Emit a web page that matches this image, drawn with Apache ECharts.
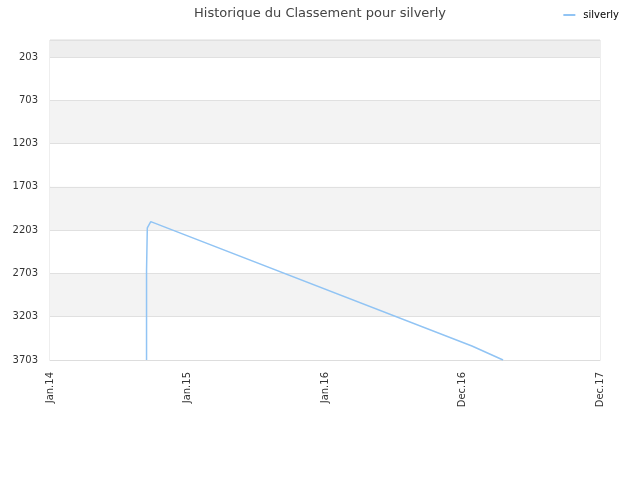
<!DOCTYPE html>
<html>
<head>
<meta charset="utf-8">
<script src="https://cdn.jsdelivr.net/npm/echarts@6/dist/echarts.min.js"></script>
<style>html,body{margin:0;padding:0;background:#fff}#c{width:640px;height:480px}</style>
</head>
<body>
<div id="c"></div>
<script>
var title = 'Historique du Classement pour silverly';
var seriesName = 'silverly';
var xTickLabels = ['Jan.14', 'Jan.15', 'Jan.16', 'Dec.16', 'Dec.17'];
var xStart = '2014-01-01';
var xEnd = '2017-12-01';
var yTicks = [203, 703, 1203, 1703, 2203, 2703, 3203, 3703];
var yMin = 7;
var dates = ['2014-09-09', '2014-09-09', '2014-09-11', '2014-09-11', '2014-09-12', '2014-09-20', '2017-01-02', '2017-03-24'];
var ranks = [3703, 2675, 2660, 2178, 2160, 2105, 3541, 3703];

var t0 = Date.parse(xStart), t1 = Date.parse(xEnd);
var step = (t1 - t0) / (xTickLabels.length - 1);
var data = dates.map(function (d, i) { return [Date.parse(d), ranks[i]]; });

var chart = echarts.init(document.getElementById('c'));
chart.setOption({
  animation: false,
  textStyle: { fontFamily: 'DejaVu Sans' },
  title: {
    text: title, left: 'center', top: 2,
    textStyle: { fontSize: 13, fontWeight: 'normal', color: '#444', fontFamily: 'DejaVu Sans' }
  },
  legend: {
    right: 16, top: 5, itemWidth: 12, itemHeight: 2, icon: 'rect', itemGap: 8,
    textStyle: { fontSize: 10, color: '#000', fontFamily: 'DejaVu Sans', padding: [0, 0, 0, 3] },
    data: [seriesName]
  },
  grid: { left: 50, right: 40, top: 40, bottom: 120, show: true, borderColor: '#ddd', borderWidth: 1 },
  xAxis: {
    type: 'value', min: t0, max: t1, interval: step,
    axisLine: { show: true, lineStyle: { color: '#ddd' } },
    axisTick: { show: false },
    splitLine: { show: false },
    axisLabel: {
      rotate: 90, fontSize: 10, color: '#333', margin: 12,
      formatter: function (v) { return xTickLabels[Math.round((v - t0) / step)] || ''; }
    }
  },
  yAxis: {
    type: 'value', inverse: true, min: yMin, max: yTicks[yTicks.length - 1],
    axisLine: { show: false },
    axisTick: { show: false, customValues: [yMin].concat(yTicks) },
    axisLabel: {
      fontSize: 10, color: '#333', margin: 12, customValues: yTicks,
      formatter: function (v) { return String(v); }
    },
    splitLine: { show: true, lineStyle: { color: '#e0e0e0', width: 1 } },
    splitArea: { show: true, areaStyle: { color: ['#eeeeee', '#ffffff', '#f3f3f3', '#ffffff', '#f3f3f3', '#ffffff', '#f3f3f3', '#ffffff'] } }
  },
  series: [{
    name: seriesName, type: 'line', data: data, showSymbol: false, symbol: 'none',
    lineStyle: { color: '#91c4f4', width: 1.5 }, itemStyle: { color: '#91c4f4' }
  }]
});
</script>
</body>
</html>
